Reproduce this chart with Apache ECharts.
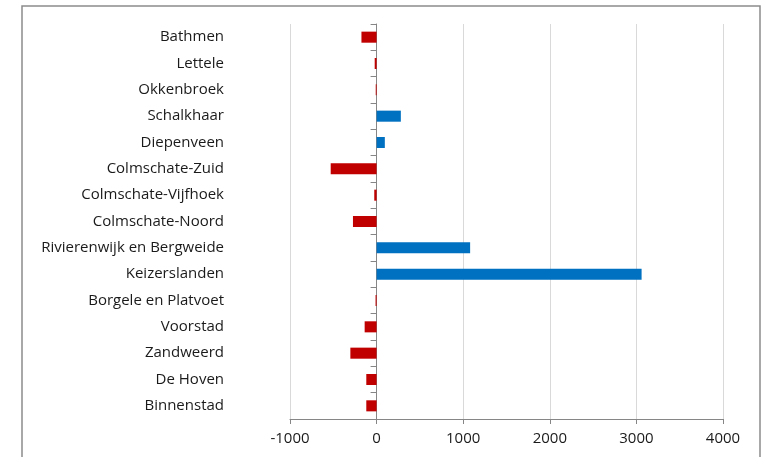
<!DOCTYPE html>
<html>
<head>
<meta charset="utf-8">
<script src="https://cdn.jsdelivr.net/npm/echarts@6/dist/echarts.min.js"></script>
<style>html,body{margin:0;padding:0;background:#fff}#c{width:764px;height:457px}</style>
</head>
<body>
<div id="c"></div>
<script>
var categories = ["Bathmen","Lettele","Okkenbroek","Schalkhaar","Diepenveen","Colmschate-Zuid","Colmschate-Vijfhoek","Colmschate-Noord","Rivierenwijk en Bergweide","Keizerslanden","Borgele en Platvoet","Voorstad","Zandweerd","De Hoven","Binnenstad"];
var values = [-175,-22,-10,280,95,-530,-27,-273,1080,3060,-12,-138,-303,-119,-119];
var xTicks = {min:-1000, max:4000, interval:1000};
var negColor = '#C00000', posColor = '#0070C0';

var chart = echarts.init(document.getElementById('c'), null, {renderer:'canvas'});
chart.setOption({
  animation:false,
  backgroundColor:'#fff',
  graphic:[{type:'rect', shape:{x:22, y:6, width:738, height:470}, style:{fill:'none', stroke:'#8c8c8c', lineWidth:1.5}, silent:true}],
  grid:{left:290, right:41, top:24, bottom:38},
  xAxis:{type:'value', min:xTicks.min, max:xTicks.max, interval:xTicks.interval,
    axisLine:{show:true, lineStyle:{color:'#868686'}},
    axisTick:{show:true, length:5, lineStyle:{color:'#868686'}},
    splitLine:{show:true, lineStyle:{color:'#d9d9d9'}},
    axisLabel:{fontFamily:'Open Sans', fontSize:15, color:'#1a1a1a', margin:12,
      formatter:function(v){return String(v);}}},
  yAxis:[
    {type:'category', data:categories, inverse:true, position:'left',
     axisLine:{show:false, onZero:false}, axisTick:{show:false},
     axisLabel:{fontFamily:'Open Sans', fontSize:15, color:'#1a1a1a', margin:66, padding:[6,0,0,0]}},
    {type:'category', data:categories, inverse:true, position:'left',
     axisLine:{show:true, onZero:true, lineStyle:{color:'#868686'}},
     axisTick:{show:true, length:6, lineStyle:{color:'#868686'}},
     axisLabel:{show:false}}
  ],
  series:[{type:'bar', yAxisIndex:0, data:values, barCategoryGap:'58%',
    itemStyle:{color:function(p){return p.value<0?negColor:posColor;}}}]
});
</script>
</body>
</html>
